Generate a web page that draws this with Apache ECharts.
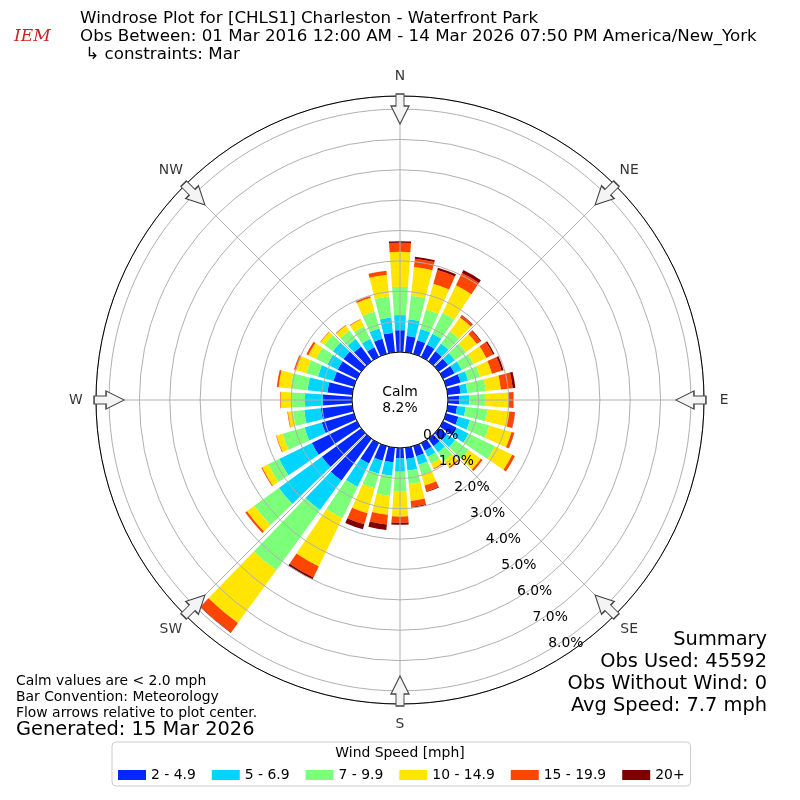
<!DOCTYPE html>
<html><head><meta charset="utf-8">
<script src="https://cdn.jsdelivr.net/npm/echarts@6/dist/echarts.min.js"></script>
<style>html,body{margin:0;padding:0;background:#fff}#c{width:800px;height:800px}</style>
</head><body><div id="c"></div>
<script>
// Direction bins (degrees, meteorological "from" direction)
const directions = ['0','10','20','30','40','50','60','70','80','90','100','110','120','130','140','150','160','170',
                    '180','190','200','210','220','230','240','250','260','270','280','290','300','310','320','330','340','350'];
// Frequency (%) per speed bin per direction
const speed2to5   = [0.72,0.54,0.47,0.45,0.40,0.38,0.42,0.50,0.43,0.37,0.31,0.42,0.50,0.33,0.30,0.28,0.35,0.37,0.34,0.48,0.50,0.75,1.70,1.60,1.65,1.10,1.04,0.96,0.82,0.70,0.70,0.72,0.60,0.35,0.52,0.65];
const speed5to7   = [0.50,0.55,0.38,0.40,0.32,0.27,0.26,0.25,0.22,0.33,0.28,0.40,0.43,0.33,0.25,0.22,0.29,0.39,0.44,0.45,0.45,0.85,1.20,1.75,1.20,0.59,0.55,0.59,0.66,0.53,0.38,0.43,0.30,0.31,0.35,0.50];
const speed7to10  = [0.93,0.78,0.67,0.77,0.50,0.45,0.44,0.41,0.61,0.52,0.73,0.66,0.97,0.56,0.35,0.25,0.35,0.44,0.66,0.66,0.50,1.15,2.45,1.00,0.40,0.75,0.37,0.43,0.56,0.40,0.42,0.35,0.35,0.46,0.58,0.70];
const speed10to15 = [1.15,0.95,0.88,1.00,0.56,0.45,0.46,0.41,0.50,0.76,0.72,0.76,0.63,0.49,0.25,0.18,0.36,0.56,0.82,0.63,0.85,1.77,2.15,0.30,0.22,0.21,0.17,0.37,0.40,0.35,0.28,0.15,0.20,0.25,0.47,0.72];
const speed15to20 = [0.30,0.28,0.47,0.45,0.08,0.15,0.25,0.33,0.39,0.17,0.18,0.09,0.10,0.07,0.05,0.03,0.20,0.20,0.20,0.32,0.38,0.40,0.38,0.07,0.03,0.02,0.02,0.02,0.06,0.07,0.07,0.02,0.02,0.02,0.06,0.13];
const speed20plus = [0.05,0.06,0.08,0.11,0.02,0.03,0.05,0.07,0.09,0.01,0.01,0.01,0,0,0,0,0.02,0.03,0.07,0.18,0.17,0.08,0.02,0,0,0,0,0,0,0,0,0,0,0,0,0];

const speedBins = ['2 - 4.9','5 - 6.9','7 - 9.9','10 - 14.9','15 - 19.9','20+'];
const binColors = ['#0028ff','#00d4ff','#7cff79','#ffe500','#ff4600','#7f0000'];
const compassLabels = ['N','NE','E','SE','S','SW','W','NW'];
const compassAngles = [0,45,90,135,180,225,270,315];
const radiusMax = 8.43;
const arrowRadius = 8.0;
const compassLabelRadius = 9.09;
const calmText = 'Calm\n8.2%';

const seriesData = [speed2to5, speed5to7, speed7to10, speed10to15, speed15to20, speed20plus];
const FONT = '"DejaVu Sans", sans-serif';

const chart = echarts.init(document.getElementById('c'), null, {renderer:'canvas'});

const barSeries = speedBins.map((name, i) => ({
  type: 'bar', name, coordinateSystem: 'polar', polarIndex: 0, stack: 'wind',
  data: seriesData[i], itemStyle: {color: binColors[i]}, barCategoryGap: '20%', z: 2, silent: true
}));

const arrowPath = 'path://M5,0 L13,0 L13,12 L18,12 L9,30 L0,12 L5,12 Z';

const option = {
  animation: false,
  backgroundColor: '#fff',
  polar: [
    {center: [400, 400], radius: [48, 304]},
    {center: [400, 400], radius: [48, 304]},
    {center: [400, 400], radius: [48, 304]}
  ],
  angleAxis: [
    {polarIndex: 0, type: 'category', data: directions, startAngle: 95, clockwise: true, boundaryGap: true, show: false},
    {polarIndex: 1, type: 'value', min: 0, max: 360, interval: 45, startAngle: 90, clockwise: true, z: 5,
     axisLine: {show: true, lineStyle: {color: '#000', width: 1}},
     axisTick: {show: false},
     axisLabel: {show: false},
     splitLine: {show: true, lineStyle: {color: '#b0b0b0', width: 1}}},
    {polarIndex: 2, type: 'value', min: 0, max: 360, startAngle: -59, show: false}
  ],
  radiusAxis: [
    {polarIndex: 0, type: 'value', min: 0, max: radiusMax, show: false},
    {polarIndex: 1, type: 'value', min: 0, max: radiusMax, interval: 1, z: 4,
     axisLine: {show: false}, axisTick: {show: false}, axisLabel: {show: false},
     splitLine: {show: true, lineStyle: {color: '#b0b0b0', width: 1}}},
    {polarIndex: 2, type: 'value', min: 0, max: radiusMax, interval: 1, z: 6,
     axisLine: {show: false}, axisTick: {show: false}, splitLine: {show: false},
     axisLabel: {show: true, margin: 17.5, align: 'center', verticalAlign: 'middle', showMaxLabel: false,
       color: '#000', fontSize: 13.9, fontFamily: FONT,
       rich: {p: {padding: [7, 0, 0, 2], color: '#000', fontSize: 13.9, fontFamily: FONT}},
       formatter: v => Math.abs(v - Math.round(v)) < 1e-6 ? '{p|' + v.toFixed(1) + '%}' : ''}}
  ],
  legend: {
    data: speedBins, left: 112, top: 742, orient: 'horizontal', icon: 'rect',
    itemWidth: 28, itemHeight: 10, itemGap: 16, selectedMode: false,
    padding: [26, 6, 4, 6], borderColor: '#cccccc', borderWidth: 1, borderRadius: 4,
    textStyle: {fontSize: 13.9, color: '#000', fontFamily: FONT}
  },
  series: barSeries.concat([{
    type: 'scatter', coordinateSystem: 'polar', polarIndex: 1, z: 8, silent: true, clip: false,
    data: compassAngles.map(a => [arrowRadius, a]),
    symbol: arrowPath, symbolSize: [18, 30],
    symbolRotate: (v) => -v[1],
    itemStyle: {color: '#f4f4f4', borderColor: '#444', borderWidth: 1.2, opacity: 1}
  }, {
    type: 'scatter', coordinateSystem: 'polar', polarIndex: 1, z: 8, silent: true, clip: false,
    data: compassAngles.map(a => [compassLabelRadius, a]),
    symbol: 'circle', symbolSize: 1,
    itemStyle: {color: 'rgba(0,0,0,0)'},
    label: {show: true, position: 'inside', color: '#000', fontSize: 13.9, fontFamily: FONT,
      formatter: p => compassLabels[p.dataIndex]}
  }]),
  graphic: [
    {type: 'text', left: 14, top: 28, style: {text: 'IEM', font: 'italic 17px "DejaVu Serif", serif', fill: '#d02020'}},
    {type: 'text', x: 80, y: 19, style: {text: 'Windrose Plot for [CHLS1] Charleston - Waterfront Park', font: '16.7px ' + FONT, fill: '#000', verticalAlign: 'middle', textVerticalAlign: 'middle'}},
    {type: 'text', x: 80, y: 37, style: {text: 'Obs Between: 01 Mar 2016 12:00 AM - 14 Mar 2026 07:50 PM America/New_York', font: '16.7px ' + FONT, fill: '#000', verticalAlign: 'middle', textVerticalAlign: 'middle'}},
    {type: 'text', x: 80, y: 55, style: {text: ' \u21b3 constraints: Mar', font: '16.7px ' + FONT, fill: '#000', verticalAlign: 'middle', textVerticalAlign: 'middle'}},
    {type: 'text', x: 400, y: 400, z: 10, style: {text: calmText, font: '13.9px ' + FONT, lineHeight: 16, fill: '#000', align: 'center', textAlign: 'center', verticalAlign: 'middle', textVerticalAlign: 'middle'}},
    {type: 'text', x: 16, y: 681, style: {text: 'Calm values are < 2.0 mph', font: '13.9px ' + FONT, fill: '#000', verticalAlign: 'middle', textVerticalAlign: 'middle'}},
    {type: 'text', x: 16, y: 697, style: {text: 'Bar Convention: Meteorology', font: '13.9px ' + FONT, fill: '#000', verticalAlign: 'middle', textVerticalAlign: 'middle'}},
    {type: 'text', x: 16, y: 713, style: {text: 'Flow arrows relative to plot center.', font: '13.9px ' + FONT, fill: '#000', verticalAlign: 'middle', textVerticalAlign: 'middle'}},
    {type: 'text', x: 16, y: 730, style: {text: 'Generated: 15 Mar 2026', font: '19.4px ' + FONT, fill: '#000', verticalAlign: 'middle', textVerticalAlign: 'middle'}},
    {type: 'text', x: 767, y: 640, style: {text: 'Summary', font: '19.4px ' + FONT, fill: '#000', align: 'right', textAlign: 'right', verticalAlign: 'middle', textVerticalAlign: 'middle'}},
    {type: 'text', x: 767, y: 662, style: {text: 'Obs Used: 45592', font: '19.4px ' + FONT, fill: '#000', align: 'right', textAlign: 'right', verticalAlign: 'middle', textVerticalAlign: 'middle'}},
    {type: 'text', x: 767, y: 684, style: {text: 'Obs Without Wind: 0', font: '19.4px ' + FONT, fill: '#000', align: 'right', textAlign: 'right', verticalAlign: 'middle', textVerticalAlign: 'middle'}},
    {type: 'text', x: 767, y: 706, style: {text: 'Avg Speed: 7.7 mph', font: '19.4px ' + FONT, fill: '#000', align: 'right', textAlign: 'right', verticalAlign: 'middle', textVerticalAlign: 'middle'}},
    {type: 'text', x: 400, y: 753, z: 10, style: {text: 'Wind Speed [mph]', font: '13.9px ' + FONT, fill: '#000', align: 'center', textAlign: 'center', verticalAlign: 'middle', textVerticalAlign: 'middle'}}
  ]
};
chart.setOption(option);
</script>
</body></html>
